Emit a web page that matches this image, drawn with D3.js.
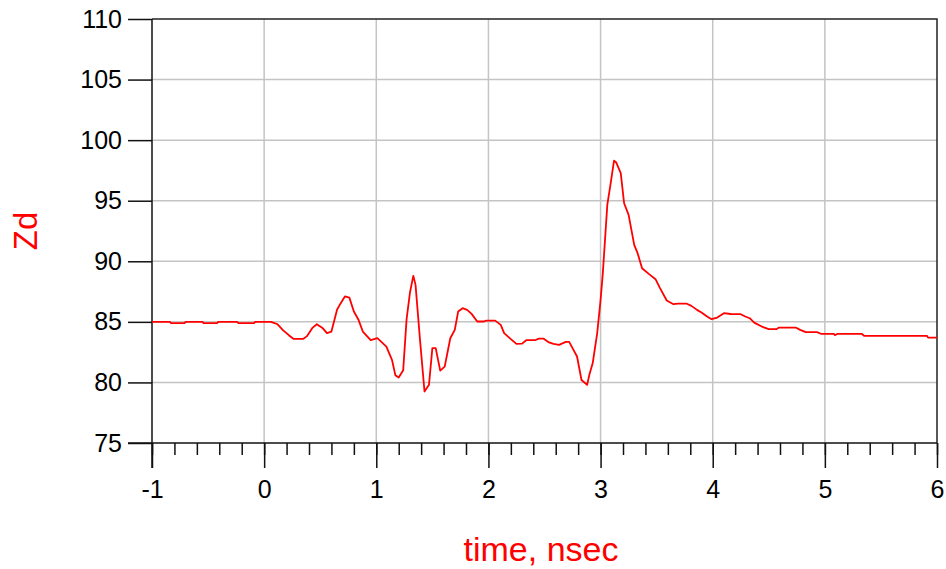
<!DOCTYPE html>
<html>
<head>
<meta charset="utf-8">
<script src="https://cdn.jsdelivr.net/npm/d3@7"></script>
<style>
  body { margin: 0; background: #fff; }
  svg { display: block; font-family: "Liberation Sans", Arial, sans-serif; }
</style>
</head>
<body>
<div id="chart"></div>
<script>
// time (nsec) and Zd values
const time = [
  -1, -0.84, -0.83, -0.71, -0.70, -0.55, -0.54, -0.42, -0.41, -0.24,
  -0.23, -0.09, -0.08, 0.06, 0.08, 0.12, 0.17, 0.22, 0.26, 0.35,
  0.38, 0.43, 0.47, 0.52, 0.56, 0.60, 0.65, 0.68, 0.72, 0.76,
  0.80, 0.84, 0.88, 0.95, 1.01, 1.09, 1.14, 1.17, 1.20, 1.24,
  1.27, 1.30, 1.33, 1.35, 1.39, 1.43, 1.47, 1.50, 1.53, 1.57,
  1.61, 1.66, 1.70, 1.73, 1.77, 1.81, 1.85, 1.90, 1.96, 1.98,
  2.06, 2.11, 2.14, 2.20, 2.25, 2.30, 2.34, 2.42, 2.45, 2.49,
  2.54, 2.58, 2.63, 2.69, 2.72, 2.75, 2.79, 2.83, 2.88, 2.90,
  2.93, 2.97, 3.00, 3.02, 3.06, 3.09, 3.12, 3.14, 3.18, 3.21,
  3.25, 3.30, 3.33, 3.37, 3.43, 3.49, 3.53, 3.59, 3.65, 3.69,
  3.77, 3.81, 3.86, 3.90, 3.95, 3.99, 4.04, 4.10, 4.16, 4.25,
  4.29, 4.33, 4.37, 4.45, 4.50, 4.57, 4.59, 4.74, 4.78, 4.83,
  4.93, 4.97, 5.08, 5.09, 5.11, 5.33, 5.35, 5.91, 5.92, 6.0
];
const zd = [
  85.0, 85.0, 84.9, 84.9, 85.0, 85.0, 84.9, 84.9, 85.0, 85.0,
  84.9, 84.9, 85.0, 85.0, 84.94, 84.8, 84.3, 83.9, 83.6, 83.6,
  83.8, 84.5, 84.8, 84.5, 84.07, 84.2, 86.0, 86.5, 87.1, 87.0,
  85.85, 85.2, 84.2, 83.5, 83.65, 82.96, 81.86, 80.6, 80.4, 81.0,
  85.2, 87.4, 88.8, 88.05, 83.5, 79.25, 79.8, 82.83, 82.83, 80.98,
  81.3, 83.65, 84.34, 85.85, 86.13, 85.99, 85.66, 85.03, 85.03, 85.1,
  85.1, 84.75, 84.07, 83.57, 83.18, 83.2, 83.5, 83.5, 83.62, 83.62,
  83.3, 83.18, 83.1, 83.35, 83.35, 82.83, 82.14, 80.2, 79.8, 80.63,
  81.6, 84.07, 86.8, 89.0, 94.65, 96.44, 98.3, 98.15, 97.27, 94.79,
  93.83, 91.35, 90.67, 89.43, 88.96, 88.52, 87.78, 86.76, 86.46, 86.5,
  86.5, 86.32, 85.99, 85.77, 85.44, 85.22, 85.35, 85.72, 85.65, 85.63,
  85.44, 85.3, 84.94, 84.56, 84.4, 84.4, 84.53, 84.53, 84.34, 84.15,
  84.15, 84.0, 84.0, 83.9, 84.0, 84.0, 83.85, 83.85, 83.7, 83.7
];

const xTicks = [-1, 0, 1, 2, 3, 4, 5, 6];
const xMinorTicks = d3.range(-1, 6.001, 0.2);
const yTicks = [75, 80, 85, 90, 95, 100, 105, 110];

const width = 946, height = 569;
const plot = { left: 152, right: 937, top: 19, bottom: 443 };

const x = d3.scaleLinear().domain([-1, 6]).range([plot.left, plot.right]);
const y = d3.scaleLinear().domain([75, 110]).range([plot.bottom, plot.top]);

const svg = d3.select("#chart").append("svg")
  .attr("width", width)
  .attr("height", height);

// grid
const grid = svg.append("g").attr("stroke", "#c4c4c4").attr("stroke-width", 1.5);
grid.selectAll(".vx").data(xTicks.slice(1, -1)).join("line")
  .attr("x1", d => x(d)).attr("x2", d => x(d))
  .attr("y1", plot.top).attr("y2", plot.bottom);
grid.selectAll(".hy").data(yTicks.slice(1, -1)).join("line")
  .attr("x1", plot.left).attr("x2", plot.right)
  .attr("y1", d => y(d)).attr("y2", d => y(d));

// frame top/right
svg.append("path")
  .attr("d", `M${plot.left},${plot.top}H${plot.right}V${plot.bottom}`)
  .attr("fill", "none")
  .attr("stroke", "#222")
  .attr("stroke-width", 1.5);

// minor x ticks
svg.append("g")
  .attr("transform", `translate(0,${plot.bottom})`)
  .call(d3.axisBottom(x).tickValues(xMinorTicks).tickSize(12).tickFormat(""))
  .call(g => g.select(".domain").remove())
  .selectAll("line").attr("stroke-width", 1.5).attr("stroke", "#111");

// major x axis
const xAxis = svg.append("g")
  .attr("transform", `translate(0,${plot.bottom})`)
  .call(d3.axisBottom(x).tickValues(xTicks).tickSize(25).tickPadding(12)
    .tickSizeOuter(0).tickFormat(d => String(d)));
xAxis.select(".domain").attr("d", `M${plot.left - 24},0H${plot.right}`);
xAxis.selectAll("line, path").attr("stroke", "#111").attr("stroke-width", 1.5);
xAxis.selectAll("text").attr("font-size", 25).attr("fill", "#000")
  .attr("font-family", "Liberation Sans, Arial, sans-serif");

// y axis
const yAxis = svg.append("g")
  .attr("transform", `translate(${plot.left},0)`)
  .call(d3.axisLeft(y).tickValues(yTicks).tickSize(24).tickPadding(6).tickSizeOuter(0));
yAxis.select(".domain").attr("d", `M0,${plot.top}V${plot.bottom + 25}`);
yAxis.selectAll("line, path").attr("stroke", "#111").attr("stroke-width", 1.5);
yAxis.selectAll("text").attr("font-size", 25).attr("fill", "#000")
  .attr("font-family", "Liberation Sans, Arial, sans-serif");

// data line
const line = d3.line().x((d, i) => x(time[i])).y(d => y(d));
svg.append("path")
  .datum(zd)
  .attr("d", line)
  .attr("fill", "none")
  .attr("stroke", "#ff0000")
  .attr("stroke-width", 1.8)
  .attr("stroke-linejoin", "round");

// axis titles
svg.append("text")
  .attr("x", 541).attr("y", 561)
  .attr("text-anchor", "middle")
  .attr("font-size", 34)
  .attr("fill", "#ff0000")
  .text("time, nsec");

svg.append("text")
  .attr("transform", "translate(37,231) rotate(-90)")
  .attr("text-anchor", "middle")
  .attr("font-size", 33)
  .attr("fill", "#ff0000")
  .text("Zd");
</script>
</body>
</html>
